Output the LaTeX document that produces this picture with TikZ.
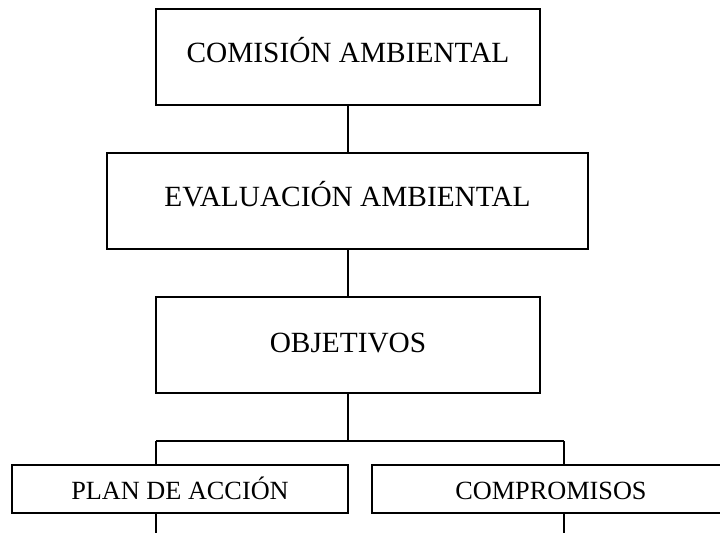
\documentclass[tikz,border=0pt]{standalone}
\usepackage{fontspec}
\setmainfont{Liberation Serif}
\begin{document}
\begin{tikzpicture}[x=0.75pt,y=-0.75pt,
  box/.style={draw,line width=1pt,inner sep=0pt,text depth=0pt},
  bigbox/.style={box,minimum height=72pt,text height=14.5pt,font=\fontsize{22}{26}\selectfont},
  smallbox/.style={box,minimum height=36pt,text height=13pt,font=\fontsize{19.7}{24}\selectfont},
  link/.style={line width=1pt}]
\clip (0,0) rectangle (720,533);
\useasboundingbox (0,0) rectangle (720,533);
\node[bigbox,minimum width=288pt] (b1) at (348,57) {\raisebox{3pt}{COMISIÓN AMBIENTAL}};
\node[bigbox,minimum width=360.75pt] (b2) at (347.5,201) {\raisebox{3pt}{EVALUACIÓN AMBIENTAL}};
\node[bigbox,minimum width=288pt] (b3) at (348,345) {\raisebox{1.5pt}{OBJETIVOS}};
\node[smallbox,minimum width=252pt] (b4) at (180,489) {\raisebox{-1.5pt}{PLAN DE ACCIÓN}};
\node[smallbox,minimum width=268.5pt] (b5) at (551,489) {\raisebox{-1.5pt}{COMPROMISOS}};
\coordinate (j) at (348,441);
\coordinate (jl) at (156,441);
\coordinate (jr) at (564,441);
\coordinate (e4) at (156,533);
\coordinate (e5) at (564,533);
\draw[link] (b1.south) -- (b1.south |- b2.north);
\draw[link] (b2.south -| b3.north) -- (b3.north);
\draw[link] (b3.south) -- (j);
\draw[link] (jl) -- (jr);
\draw[link] (jl) -- (jl |- b4.north);
\draw[link] (jr) -- (jr |- b5.north);
\draw[link] (jl |- b4.south) -- (e4);
\draw[link] (jr |- b5.south) -- (e5);
\end{tikzpicture}
\end{document}
